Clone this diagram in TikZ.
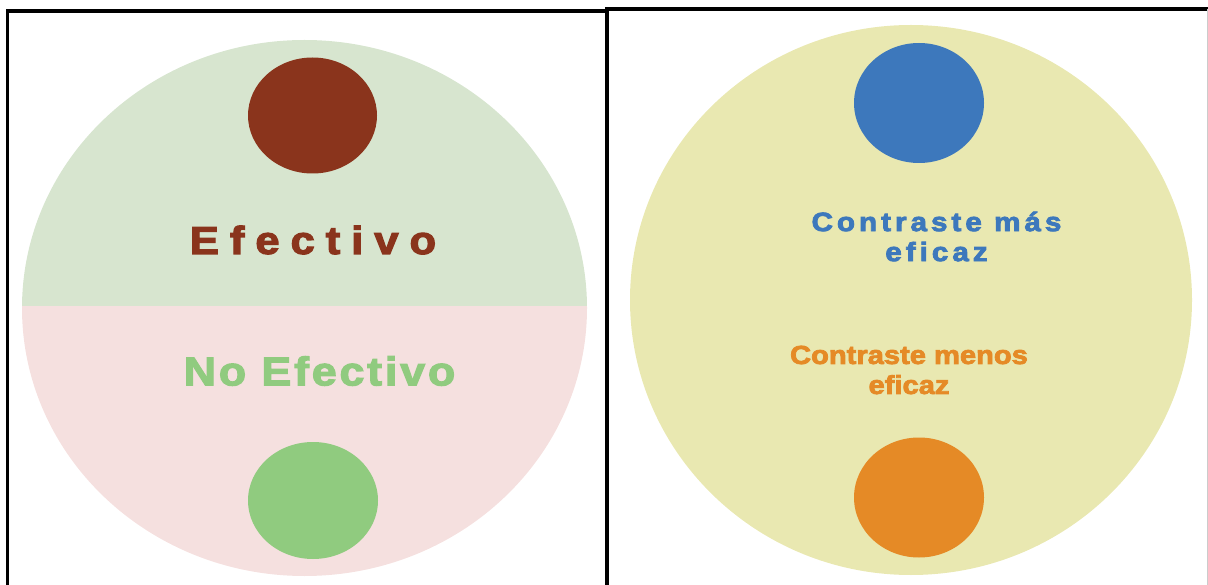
\documentclass[tikz,border=0pt]{standalone}
\usepackage{fontspec}
\setmainfont{Liberation Sans}
\newfontfamily\heavy[FakeBold=3,FakeStretch=1.12]{Liberation Sans Bold}
\definecolor{topgreen}{HTML}{D7E5CF}
\definecolor{botpink}{HTML}{F5E0DF}
\definecolor{darkred}{HTML}{8A341C}
\definecolor{lgreen}{HTML}{90CB7F}
\definecolor{yel}{HTML}{E9E8B1}
\definecolor{blu}{HTML}{3D78BC}
\definecolor{ora}{HTML}{E58A26}
\tikzset{
  panel/.style={line width=3.5pt, black},
  lbl/.style={inner sep=0pt, align=center},
}
\begin{document}
\begin{tikzpicture}[x=1pt,y=-1pt]
\useasboundingbox (0,0) rectangle (1208,585);
% left big circle
\begin{scope}
  \clip (0,0) rectangle (604,307);
  \fill[topgreen] (304.5,308) ellipse [x radius=282.5, y radius=268];
\end{scope}
\begin{scope}
  \clip (0,307) rectangle (604,585);
  \fill[botpink] (304.5,308) ellipse [x radius=282.5, y radius=268];
\end{scope}
\fill[darkred] (312.5,115.5) ellipse [x radius=64.5, y radius=58];
\fill[lgreen] (313,500.5) ellipse [x radius=65, y radius=58.5];
\node[lbl, text=darkred, font=\heavy\fontsize{39}{44}\selectfont\addfontfeature{LetterSpace=28}] (eff) at (313,240) {Efectivo};
\node[lbl, text=lgreen, font=\heavy\fontsize{40}{44}\selectfont\addfontfeature{LetterSpace=7}] (noeff) at (319.5,371) {No Efectivo};
% right big circle
\fill[yel] (911,300) ellipse [x radius=281, y radius=275];
\fill[blu] (919,103) ellipse [x radius=65, y radius=60];
\fill[ora] (919,497.5) ellipse [x radius=65, y radius=60];
\node[lbl, text=blu, font=\heavy\fontsize{26.5}{30}\selectfont\addfontfeature{LetterSpace=15}] (mas) at (936.5,236.5) {Contraste más\\eficaz};
\node[lbl, text=ora, font=\heavy\fontsize{26}{30}\selectfont] (menos) at (909,370) {Contraste menos\\eficaz};
% panel borders
\draw[panel] (7.5,585) -- (7.5,11) -- (607,11);
\draw[panel, line width=4pt] (607,585) -- (607,9) -- (1208,9);
\draw[gray!40, line width=1pt] (1207.5,9) -- (1207.5,585);
\end{tikzpicture}
\end{document}
